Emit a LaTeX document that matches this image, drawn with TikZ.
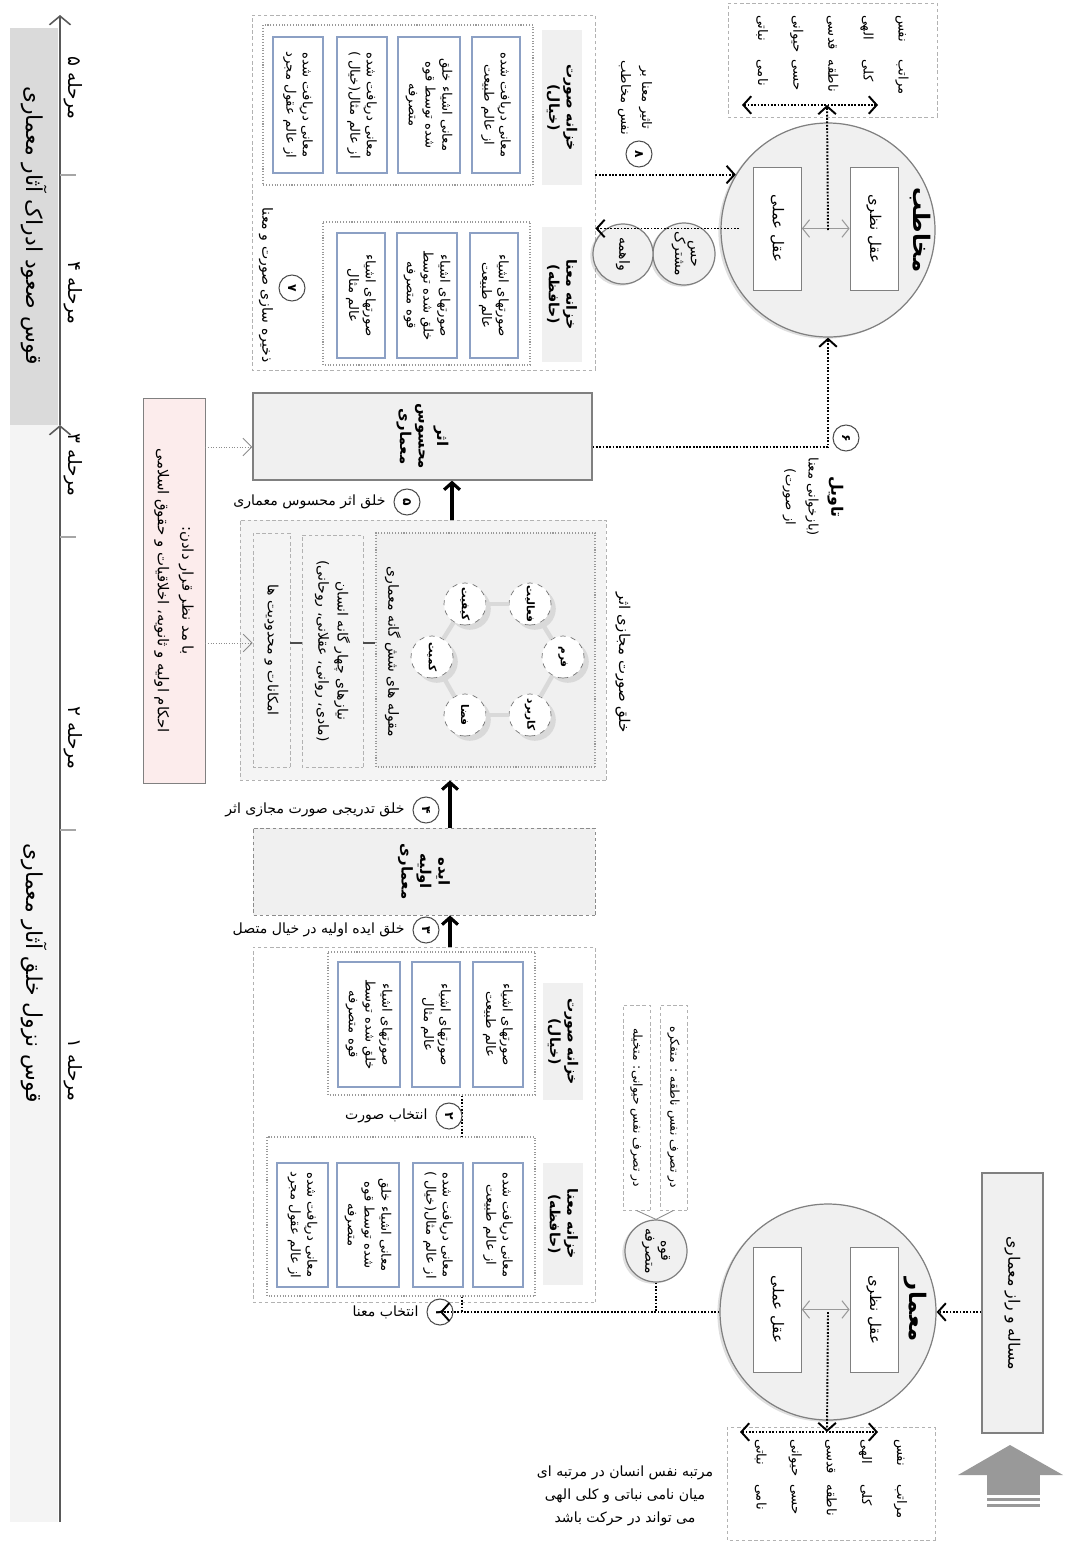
\documentclass[tikz,border=0pt]{standalone}
\usepackage{fontspec}
\usepackage{graphicx}
\setmainfont{DejaVu Sans}
\newfontfamily\fafont[Script=Arabic]{DejaVu Sans}
\TeXXeTstate=1
\usetikzlibrary{positioning, arrows.meta, shadows}
\newcommand{\fa}[1]{{\fafont\beginR #1\endR}}
\newcommand{\twocol}[2]{\fa{\makebox[0.9cm][r]{#1}\makebox[0.9cm][r]{#2}}}
\newcommand{\rnum}[1]{\rotatebox{-90}{\fafont #1}}
\definecolor{cellblue}{RGB}{140,160,196}
\definecolor{pinkbg}{RGB}{252,236,236}
\definecolor{panel}{RGB}{240,240,240}
\definecolor{band}{RGB}{218,218,218}
\definecolor{bandlight}{RGB}{244,244,244}
\definecolor{linegray}{RGB}{128,128,128}

\begin{document}
\begin{tikzpicture}[x=0.02cm, y=-0.02cm, font=\fafont\fontsize{7.5}{9.5}\selectfont]
  \tikzset{rbox/.style 2 args={rotate=-90, minimum width=#2*0.02cm, minimum height=#1*0.02cm, inner sep=1pt, align=center}}
  \tikzset{grp/.style={draw=black!30, dash pattern=on 2pt off 1.5pt, line width=0.5pt}}
  \tikzset{inbox/.style={draw=black!40, densely dotted, line width=0.6pt}}
  \tikzset{cell/.style={draw=cellblue, fill=white, line width=0.8pt}}
  \tikzset{tagbox/.style={fill=panel, font=\fafont\fontsize{8}{10}\selectfont\bfseries}}
  \tikzset{solidbox/.style={draw=linegray, fill=panel, line width=0.7pt}}
  \tikzset{num/.style={circle, draw=black!70, fill=white, minimum size=26*0.02cm, inner sep=0pt, line width=0.6pt, font=\fafont\fontsize{7}{8}\selectfont\bfseries}}
  \tikzset{ball/.style={circle, draw=linegray, fill=panel, line width=0.7pt, drop shadow={opacity=0.25, shadow xshift=-1.5pt, shadow yshift=-1pt}}}
  \tikzset{catball/.style={circle, rotate=-90, draw=black!55, dashed, fill=white, minimum size=42*0.02cm, inner sep=0pt, font=\fafont\fontsize{6}{7}\selectfont\bfseries, drop shadow={opacity=0.2}}}
  \tikzset{dotln/.style={line width=1.1pt, dash pattern=on 1pt off 0.9pt}}
  \tikzset{dotarr/.style={dotln, -{Straight Barb[length=4.5pt, width=10pt]}}}
  \tikzset{dotdbl/.style={dotln, {Straight Barb[length=4.5pt, width=10pt]}-{Straight Barb[length=4.5pt, width=10pt]}}}
  \tikzset{flow/.style={line width=1.8pt, -{Straight Barb[length=4pt, width=9pt]}}}
  \tikzset{thinarr/.style={draw=black!45, line width=0.5pt, densely dotted, -{Straight Barb[length=5pt, width=10pt]}}}
  \tikzset{twoway/.style={draw=black!40, line width=0.6pt, {Straight Barb[length=4pt, width=10pt]}-{Straight Barb[length=4pt, width=10pt]}}}
  \tikzset{phaseline/.style={draw=black!65, line width=0.9pt, -{Straight Barb[length=5pt, width=12pt]}}}
  \tikzset{flowlbl/.style={font=\fafont\fontsize{8}{9}\selectfont}}
  \tikzset{sidelbl/.style={rotate=-90, align=center, font=\fafont\fontsize{8}{10}\selectfont}}

  \useasboundingbox (0,0) rectangle (1073,1552);

  % phases
  \node[rbox={48}{397}, fill=band, font=\fafont\fontsize{12.5}{13}\selectfont] (upband) at (34,226) {\fa{قوس صعود ادراک آثار معماری}};
  \node[rbox={48}{1097}, fill=bandlight, font=\fafont\fontsize{12.5}{13}\selectfont] (downband) at (34,973.5) {\fa{قوس نزول خلق آثار معماری}};
  \coordinate (axbot) at (60,1522);
  \coordinate (axmid) at (60,425);
  \coordinate (axtop) at (60,15);
  \draw[phaseline] (axbot) -- (axmid);
  \draw[phaseline] (axmid) -- (axtop);
  \foreach \t in {175,537,830}
    \draw[black!35, line width=0.6pt] (60,\t) -- (76,\t);
  \foreach \n/\y in {۵/88, ۴/293, ۳/465, ۲/738, ۱/1070}
    \node[rotate=-90, font=\fafont\fontsize{10.5}{11}\selectfont] (st\y) at (73,\y) {\fa{مرحله \n}};

  % audience
  \node[rbox={209}{114}, grp, font=\fafont\fontsize{7.5}{20}\selectfont, align=right] (rankT) at (832.5,60) {\twocol{مراتب}{نفس}\\\twocol{کلی}{الهی}\\\twocol{ناطقه}{قدسی}\\\twocol{حسی}{حیوانی}\\\twocol{نامی}{نباتی}};
  \coordinate (rT1) at (742,105);
  \coordinate (rT2) at (878,105);
  \coordinate (rTc) at (827,105);
  \draw[dotdbl] (rT1) -- (rT2);
  \node[ball, minimum size=214*0.02cm] (aud) at (828,230) {};
  \node[rbox={48}{123}, draw=linegray, fill=white, font=\fafont\fontsize{8.5}{10}\selectfont] (audNaz) at (874,228.5) {\fa{عقل نظری}};
  \node[rbox={48}{123}, draw=linegray, fill=white, font=\fafont\fontsize{8.5}{10}\selectfont] (audAm) at (777.5,228.5) {\fa{عقل عملی}};
  \node[rotate=-90, font=\fafont\fontsize{13}{14}\selectfont\bfseries] (audName) at (920,230) {\fa{مخاطب}};
  \draw[twoway] (audAm) -- (audNaz);
  \draw[dotarr] (aud.center) -- (rTc);

  % stored forms and meanings
  \node[rbox={343}{355}, grp] (grpT) at (423.5,192.5) {};
  \node[rbox={40}{155}, tagbox] (tagST) at (562,107.5) {\fa{خزانه صورت}\\\fa{(خیال)}};
  \node[rbox={270}{160}, inbox] (inT1) at (398,105) {};
  \node[rbox={48}{136}, cell] (cT1) at (496,105) {\fa{معانی دریافت شده}\\\fa{از عالم طبیعت}};
  \node[rbox={62}{136}, cell] (cT2) at (429,105) {\fa{معانی اشیاء خلق}\\\fa{شده توسط قوه}\\\fa{متصرفه}};
  \node[rbox={50}{136}, cell] (cT3) at (362,105) {\fa{معانی دریافت شده}\\\fa{از عالم مثال(خیال )}};
  \node[rbox={50}{136}, cell] (cT4) at (298,105) {\fa{معانی دریافت شده}\\\fa{از عالم عقول مجرد}};
  \node[rbox={40}{135}, tagbox] (tagMT) at (562,294.5) {\fa{خزانه معنا}\\\fa{(حافظه)}};
  \node[rbox={207}{143}, inbox] (inT2) at (426.5,293.5) {};
  \node[rbox={48}{125}, cell] (cT5) at (494,295.5) {\fa{صورتهای اشیاء}\\\fa{عالم طبیعت}};
  \node[rbox={60}{125}, cell] (cT6) at (427,295.5) {\fa{صورتهای اشیاء}\\\fa{خلق شده توسط}\\\fa{قوه متصرفه}};
  \node[rbox={48}{125}, cell] (cT7) at (361,295.5) {\fa{صورتهای اشیاء}\\\fa{عالم مثال}};
  \node[num] (n7) at (292,288) {\rnum{۷}};
  \node[sidelbl] (l7) at (266,285) {\fa{ذخیره سازی صورت و معنا}};

  \node[num] (n8) at (639,154) {\rnum{۸}};
  \node[sidelbl, font=\fafont\fontsize{7.5}{12}\selectfont] (l8) at (635,98) {\fa{تاثیر معنا بر}\\\fa{نفس مخاطب}};
  \draw[dotarr] (grpT.north |- aud.149.7) -- (aud.149.7);
  \node[ball, rotate=-90, minimum size=62*0.02cm, align=center, inner sep=0pt, font=\fafont\fontsize{8}{9}\selectfont] (hm) at (684,254) {\fa{حس}\\\fa{مشترک}};
  \node[ball, rotate=-90, minimum size=60*0.02cm, inner sep=0pt, font=\fafont\fontsize{8}{9}\selectfont] (vh) at (623,254) {\fa{واهمه}};
  \draw[dotarr] ([xshift=-8pt]audAm.south) -- (grpT.north |- audAm.south);

  % built work and interpretation
  \node[rbox={339}{87}, solidbox, font=\fafont\fontsize{8.5}{10.5}\selectfont\bfseries] (athar) at (422.5,436.5) {\fa{اثر}\\\fa{محسوس}\\\fa{معماری}};
  \draw[dotarr] (athar.north |- 0,447) -| (aud.south);
  \node[num] (n6) at (846,438) {\rnum{۶}};
  \node[sidelbl, font=\fafont\fontsize{7.5}{13}\selectfont] (tavil) at (813,497) {{\fontsize{9}{13}\selectfont\bfseries\fa{تاویل}}\\\fa{(بازخوانی معنا}\\\fa{از صورت)}};

  \node[rbox={62}{385}, draw=linegray, fill=pinkbg, font=\fafont\fontsize{8.5}{14}\selectfont] (rules) at (174,590.5) {\fa{با مد نظر قرار دادن:}\\\fa{احکام اولیه و ثانویه، اخلاقیات و حقوق اسلامی}};

  % virtual form
  \node[rbox={366}{260}, grp, fill=bandlight] (grpC) at (423,650) {};
  \node[rbox={219}{234}, inbox, fill=black!6] (cats) at (485.5,650) {};
  \node[rbox={61}{232}, grp, font=\fafont\fontsize{8}{11}\selectfont] (needs) at (332.5,651) {\fa{نیازهای چهار گانه انسان}\\\fa{(مادی، روانی، عقلانی، روحانی)}};
  \node[rbox={37}{234}, grp, font=\fafont\fontsize{8}{10}\selectfont] (limits) at (271.5,650) {\fa{امکانات و محدودیت ها}};
  \draw[black!70, line width=0.8pt] (limits.north |- 0,643) -- (needs.south |- 0,643);
  \draw[black!70, line width=0.8pt] (needs.north |- 0,643) -- (cats.south |- 0,643);
  \node[sidelbl] (catsName) at (393,652) {\fa{مقوله های شش گانه معماری}};
  \foreach \nm/\x/\y/\txt in {cAct/530/604/فعالیت, cForm/563/657/فرم, cUse/530/715/کاربرد, cSpace/465/715/فضا, cQuan/432/657/کمیت, cQual/465/604/کیفیت}
    \node[catball] (\nm) at (\x,\y) {\fa{\txt}};
  \foreach \a/\b in {cAct/cForm, cForm/cUse, cUse/cSpace, cSpace/cQuan, cQuan/cQual, cQual/cAct}
    \draw[black!15, line width=2.5pt] (\a) -- (\b);
  \node[sidelbl, font=\fafont\fontsize{8.5}{10}\selectfont] (grpCname) at (623,663) {\fa{خلق صورت مجازی اثر}};
  \draw[thinarr] (rules.north |- 0,447) -- (athar.south |- 0,447);
  \draw[thinarr] (rules.north |- 0,643) -- (limits.south |- 0,643);

  \draw[flow] (grpC.west -| 452,0) -- (athar.east -| 452,0);
  \node[num] (n5) at (407,502) {\rnum{۵}};
  \node[flowlbl, left=1pt of n5] (l5) {\fa{خلق اثر محسوس معماری}};

  % first idea
  \node[rbox={342}{87}, grp, draw=black!45, fill=panel, font=\fafont\fontsize{8.5}{10.5}\selectfont\bfseries] (idea) at (424,871.5) {\fa{ایده}\\\fa{اولیه}\\\fa{معماری}};
  \draw[flow] (idea.west -| 450,0) -- (grpC.east -| 450,0);
  \node[num] (n4) at (426,810) {\rnum{۴}};
  \node[flowlbl, left=1pt of n4] (l4) {\fa{خلق تدریجی صورت مجازی اثر}};

  % selection from the stores
  \node[rbox={342}{355}, grp] (grpB) at (424,1124.5) {};
  \draw[flow] (grpB.west -| 450,0) -- (idea.east -| 450,0);
  \node[num] (n3) at (426,930) {\rnum{۳}};
  \node[flowlbl, left=1pt of n3] (l3) {\fa{خلق ایده اولیه در خیال متصل}};
  \node[rbox={40}{117}, tagbox] (tagSB) at (563,1041.5) {\fa{خزانه صورت}\\\fa{(خیال)}};
  \node[rbox={207}{143}, inbox] (inB1) at (431.5,1023.5) {};
  \node[rbox={50}{125}, cell] (cB1) at (498,1024.5) {\fa{صورتهای اشیاء}\\\fa{عالم طبیعت}};
  \node[rbox={48}{125}, cell] (cB2) at (436,1024.5) {\fa{صورتهای اشیاء}\\\fa{عالم مثال}};
  \node[rbox={62}{125}, cell] (cB3) at (369,1024.5) {\fa{صورتهای اشیاء}\\\fa{خلق شده توسط}\\\fa{قوه متصرفه}};
  \node[rbox={40}{122}, tagbox] (tagMB) at (563,1224) {\fa{خزانه معنا}\\\fa{(حافظه)}};
  \node[rbox={268}{159}, inbox] (inB2) at (401,1216.5) {};
  \node[rbox={50}{124}, cell] (cB4) at (498,1225) {\fa{معانی دریافت شده}\\\fa{از عالم طبیعت}};
  \node[rbox={50}{124}, cell] (cB5) at (438,1225) {\fa{معانی دریافت شده}\\\fa{از عالم مثال(خیال )}};
  \node[rbox={62}{124}, cell] (cB6) at (368,1225) {\fa{معانی اشیاء خلق}\\\fa{شده توسط قوه}\\\fa{متصرفه}};
  \node[rbox={51}{124}, cell] (cB7) at (302.5,1225) {\fa{معانی دریافت شده}\\\fa{از عالم عقول مجرد}};
  \draw[dotln] (inB1.east -| 462,0) -- (inB2.west -| 462,0);
  \node[num] (n2) at (449,1116) {\rnum{۲}};
  \node[flowlbl, left=1pt of n2] (l2) {\fa{انتخاب صورت}};

  % architect
  \node[ball, minimum size=216*0.02cm] (arch) at (828,1312) {};
  \node[rbox={48}{125}, draw=linegray, fill=white, font=\fafont\fontsize{8.5}{10}\selectfont] (archNaz) at (874,1309.5) {\fa{عقل نظری}};
  \node[rbox={48}{125}, draw=linegray, fill=white, font=\fafont\fontsize{8.5}{10}\selectfont] (archAm) at (777.5,1309.5) {\fa{عقل عملی}};
  \node[rotate=-90, font=\fafont\fontsize{13}{14}\selectfont\bfseries] (archName) at (915,1310) {\fa{معمار}};
  \draw[twoway] (archAm) -- (archNaz);
  \node[rbox={208}{113}, grp, font=\fafont\fontsize{7.5}{20}\selectfont, align=right] (rankB) at (831,1484) {\twocol{مراتب}{نفس}\\\twocol{کلی}{الهی}\\\twocol{ناطقه}{قدسی}\\\twocol{حسی}{حیوانی}\\\twocol{نامی}{نباتی}};
  \coordinate (rB1) at (740,1432);
  \coordinate (rB2) at (878,1432);
  \coordinate (rBc) at (827,1432);
  \draw[dotdbl] (rB1) -- (rB2);
  \draw[dotarr] (arch.center) -- (rBc);
  \node[rbox={61}{260}, solidbox, font=\fafont\fontsize{9}{10}\selectfont] (prob) at (1012.5,1303) {\fa{مساله و راز معماری}};
  \draw[dotarr] (prob.south |- arch.east) -- (arch.east);
  \fill[black!40] (958,1475) -- (1010,1445) -- (1063,1475) -- cycle;
  \fill[black!40] (987,1475) rectangle (1040,1495);
  \fill[black!40] (987,1498) rectangle (1040,1501);
  \fill[black!40] (987,1504) rectangle (1040,1507);
  \node[align=center, font=\fafont\fontsize{8}{13}\selectfont] (note) at (625,1496) {\fa{مرتبه نفس انسان در مرتبه ای}\\\fa{میان نامی نباتی و کلی الهی}\\\fa{می تواند در حرکت باشد}};

  \node[ball, rotate=-90, minimum size=62*0.02cm, align=center, inner sep=0pt, font=\fafont\fontsize{8}{9}\selectfont] (qs) at (656,1251) {\fa{قوه}\\\fa{متصرفه}};
  \node[rbox={27}{205}, grp, font=\fafont\fontsize{7}{8}\selectfont] (tf1) at (673.5,1107.5) {\fa{در تصرف نفس ناطقه : متفکره}};
  \node[rbox={27}{205}, grp, font=\fafont\fontsize{7}{8}\selectfont] (tf2) at (636.5,1107.5) {\fa{در تصرف نفس حیوانی: متخیله}};
  \draw[black!45, line width=0.5pt] (tf1.east) -- (qs.west);
  \draw[black!45, line width=0.5pt] (tf2.east) -- (qs.west);
  \node[num] (n1) at (440,1312) {\rnum{۱}};
  \node[flowlbl, left=1pt of n1] (l1) {\fa{انتخاب معنا}};
  \draw[dotarr] (arch.west) -- (n1.center);
  \draw[dotln] (qs) -- (qs |- arch.west);
  \path (inB2.east -| 462,0) coordinate (j1);
  \draw[dotln] (j1) -- (j1 |- arch.west);
\end{tikzpicture}
\end{document}
